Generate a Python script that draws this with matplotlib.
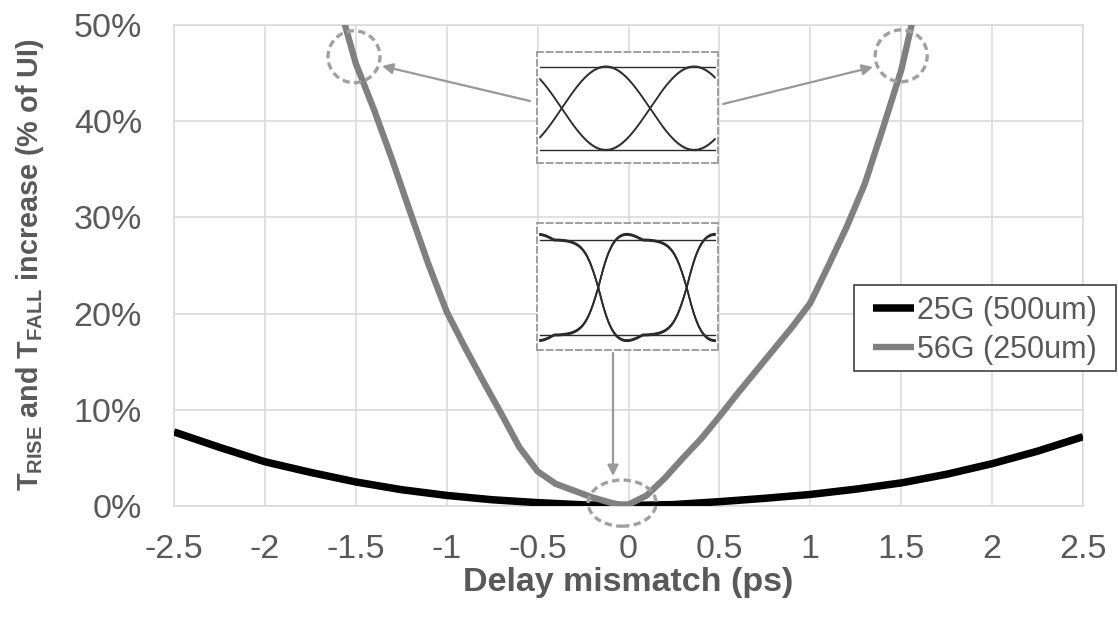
import numpy as np
import matplotlib
matplotlib.use('Agg')
import matplotlib.pyplot as plt
from matplotlib.patches import Ellipse, Rectangle

plt.rcParams['font.family'] = ['Liberation Sans', 'DejaVu Sans']
plt.rcParams['mathtext.fontset'] = 'custom'
plt.rcParams['mathtext.rm'] = 'Liberation Sans'
plt.rcParams['mathtext.bf'] = 'Liberation Sans:bold'
plt.rcParams['mathtext.it'] = 'Liberation Sans:italic'

# ---------------- data ----------------
x_25g = [-2.5, -2.25, -2.0, -1.75, -1.5, -1.25, -1.0, -0.75, -0.5, -0.25, 0.0,
         0.25, 0.5, 0.75, 1.0, 1.25, 1.5, 1.75, 2.0, 2.25, 2.5]
y_25g = [7.7, 6.1, 4.6, 3.5, 2.5, 1.7, 1.1, 0.65, 0.35, 0.12, 0.05,
         0.15, 0.45, 0.8, 1.2, 1.75, 2.4, 3.3, 4.4, 5.7, 7.2]

x_56g = [-1.6, -1.5, -1.4, -1.3, -1.2, -1.1, -1.0, -0.9, -0.8, -0.7, -0.6, -0.5,
         -0.4, -0.3, -0.2, -0.1, -0.04, 0.0, 0.1, 0.2, 0.3, 0.4, 0.5, 0.6, 0.7,
         0.8, 0.9, 1.0, 1.1, 1.2, 1.3, 1.4, 1.5, 1.6]
y_56g = [52.7, 46.0, 41.2, 36.0, 30.5, 25.1, 20.2, 16.5, 13.0, 9.6, 6.1, 3.6,
         2.3, 1.6, 0.9, 0.35, 0.1, 0.15, 1.1, 2.9, 5.0, 7.0, 9.3, 11.7, 14.0,
         16.3, 18.6, 21.1, 25.0, 29.0, 33.5, 39.3, 45.3, 53.5]

series_labels = ['25G (500um)', '56G (250um)']
x_ticks = [-2.5, -2.0, -1.5, -1.0, -0.5, 0.0, 0.5, 1.0, 1.5, 2.0, 2.5]
x_tick_labels = ['-2.5', '-2', '-1.5', '-1', '-0.5', '0', '0.5', '1', '1.5', '2', '2.5']
y_ticks = [0, 10, 20, 30, 40, 50]
y_tick_labels = ['0%', '10%', '20%', '30%', '40%', '50%']

# highlighted operating points (circles) : (x, y) in data units
highlight_pts = [(-1.51, 46.7), (1.50, 46.8), (-0.035, 0.3)]

TXT = '#595959'
W, H = 1118, 617

fig = plt.figure(figsize=(W / 100, H / 100), dpi=100)
ax = fig.add_axes([174 / W, 1 - 506 / H, (1083 - 174) / W, (506 - 25) / H])

ax.plot(x_25g, y_25g, color='black', lw=5.4, zorder=3, label=series_labels[0],
        solid_capstyle='butt', solid_joinstyle='round')
ax.plot(x_56g, y_56g, color='#808080', lw=4.6, zorder=4, label=series_labels[1],
        solid_capstyle='butt', solid_joinstyle='round')

ax.set_xlim(-2.5, 2.5)
ax.set_ylim(0, 50)
ax.set_xticks(x_ticks, x_tick_labels)
ax.set_yticks(y_ticks, y_tick_labels)
ax.tick_params(axis='both', length=0, labelsize=24.5, colors=TXT)
ax.tick_params(axis='x', pad=20)
ax.tick_params(axis='y', pad=23)
ax.grid(True, color='#d9d9d9', lw=1.1)
ax.set_axisbelow(True)
for s in ax.spines.values():
    s.set_color('#d9d9d9')
    s.set_linewidth(1.1)

# axis titles
fig.text(628 / W, 1 - 583 / H, 'Delay mismatch (ps)', ha='center', va='center',
         fontsize=24.5, fontweight='bold', color=TXT)
fig.text(30 / W, 1 - 265 / H,
         r'$\mathbf{T_{RISE}}$ and $\mathbf{T_{FALL}}$ increase (% of UI)',
         ha='center', va='center', rotation=90, fontsize=20.7,
         fontweight='bold', color=TXT)

# dashed circles
sizes = [(0.286, 5.4), (0.286, 5.4), (0.374, 4.8)]
for (cx, cy), (w, h) in zip(highlight_pts, sizes):
    e = Ellipse((cx, cy), w, h, fill=False, ec='#a0a0a0', lw=2.4,
                ls=(0, (2.2, 1.3)), clip_on=False, zorder=6)
    ax.add_patch(e)

# arrows (figure pixels)
arrows = [((530, 101), (382, 66)), ((723, 104), (873, 67)), ((613, 353), (613, 476))]
for (x0, y0), (x1, y1) in arrows:
    ax.annotate('', xy=(x1, H - y1), xycoords='figure pixels',
                xytext=(x0, H - y0), textcoords='figure pixels',
                arrowprops=dict(arrowstyle='-|>', color='#999999', lw=1.6,
                                mutation_scale=16, shrinkA=0, shrinkB=0),
                zorder=7)

# eye-diagram insets (illustrations)
EYE = '#2b2b2b'
def make_inset(x0, y0, x1, y1):
    a = fig.add_axes([x0 / W, 1 - y1 / H, (x1 - x0) / W, (y1 - y0) / H])
    a.set_xlim(0, x1 - x0)
    a.set_ylim(y1 - y0, 0)
    a.set_xticks([])
    a.set_yticks([])
    a.set_facecolor('white')
    for s in a.spines.values():
        s.set_color('#a0a0a0')
        s.set_linewidth(1.4)
        s.set_linestyle((0, (3, 2)))
    return a

# top eye (mismatch case)
a1 = make_inset(537.3, 51.7, 718.3, 163.3)
t = np.linspace(2.7, 177.7, 500)
ph = np.sin(2 * np.pi * (t - 24.4) / 176.6)
for d in (-0.5, 0.5):
    a1.plot(t, 56.6 - 41.7 * ph + d, color=EYE, lw=0.9)
    a1.plot(t, 56.6 + 41.7 * ph + d, color=EYE, lw=0.9)
a1.plot([2.7, 177.7], [15, 15], color=EYE, lw=1.0)
a1.plot([2.7, 177.7], [98.3, 98.3], color=EYE, lw=1.0)

# bottom eye (matched case)
a2 = make_inset(537.3, 222.7, 718.3, 350)
t = np.linspace(2.7, 177.7, 700)
th = 2 * np.pi * (t - 61) / 176.8
k = 1.9
g = np.tanh(k * np.sin(th)) / np.tanh(k)
phi = np.mod(th, np.pi)
g = g + 0.17 * np.sin(2 * phi) * (phi < np.pi / 2) * np.sign(np.sin(th))
for d, lw in ((-0.8, 1.0), (0.0, 1.2), (0.8, 1.0)):
    a2.plot(t, 64.8 - 47.5 * g + d, color=EYE, lw=lw)
    a2.plot(t, 64.8 + 47.5 * g + d, color=EYE, lw=lw)
a2.plot([2.7, 177.7], [17.3, 17.3], color=EYE, lw=1.0)
a2.plot([2.7, 177.7], [112.3, 112.3], color=EYE, lw=1.0)

# legend
ax.add_patch(Rectangle((854 / W, 1 - 371 / H), (1116 - 854) / W, (371 - 285) / H,
                       transform=fig.transFigure, fill=True, fc='white',
                       ec='#404040', lw=1.2, zorder=10, clip_on=False))
leg = ax.legend(loc='upper left', bbox_to_anchor=(873 / W, 1 - 296 / H),
                bbox_transform=fig.transFigure, fontsize=22, frameon=False,
                handlelength=1.35, handletextpad=0.1, borderpad=0,
                borderaxespad=0, labelspacing=0.3)
for txt in leg.get_texts():
    txt.set_color(TXT)
leg.set_zorder(11)

fig.savefig('out.png', dpi=100)
